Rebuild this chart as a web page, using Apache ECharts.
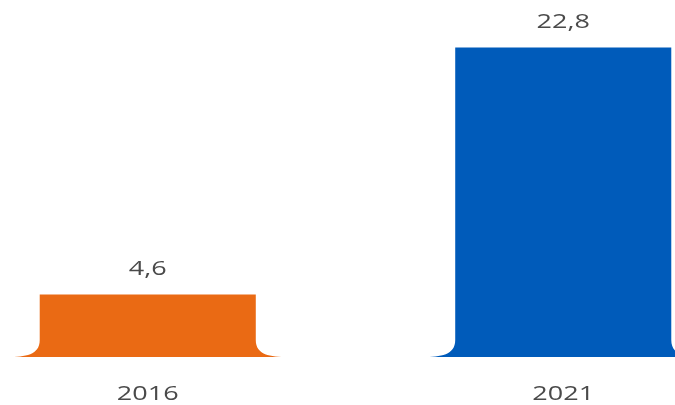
<!DOCTYPE html>
<html>
<head>
<meta charset="utf-8">
<script src="https://cdn.jsdelivr.net/npm/echarts@6/dist/echarts.min.js"></script>
<style>
  html, body { margin: 0; padding: 0; background: #ffffff; }
  #chart { width: 675px; height: 405px; }
</style>
</head>
<body>
<div id="chart"></div>
<script>
// Years and values shown on the chart
const years = ['2016', '2021'];
const values = [4.6, 22.8];
const barColors = ['#EA6A14', '#005BBA'];

const labelFont = '20px "Open Sans", sans-serif';
const labelColor = '#4a4a4a';
const labelStretch = 1.35;

const chart = echarts.init(document.getElementById('chart'), null, { renderer: 'canvas' });

// Bar with a soft concave flare at its foot, its value above and its year below
function renderFlaredBar(params, api) {
  const idx = api.value(0);
  const val = api.value(1);
  const base = api.coord([idx, 0]);
  const top = api.coord([idx, val]);
  const band = api.size([1, 0])[0];
  const w = band * 0.52;
  const l = base[0] - w / 2;
  const r = base[0] + w / 2;
  const y0 = base[1];
  const y1 = top[1];
  const fw = 32;   // flare reach along the baseline
  const fh = 17;   // flare height up the side
  const path =
    'M' + (l - fw) + ',' + y0 +
    ' C' + (l - fw * 0.45) + ',' + y0 + ' ' + l + ',' + (y0 - 2) + ' ' + l + ',' + (y0 - fh) +
    ' L' + l + ',' + y1 +
    ' L' + r + ',' + y1 +
    ' L' + r + ',' + (y0 - fh) +
    ' C' + r + ',' + (y0 - 2) + ' ' + (r + fw * 0.45) + ',' + y0 + ' ' + (r + fw) + ',' + y0 + ' Z';
  const textStyle = (t) => ({
    text: t,
    fill: labelColor,
    font: labelFont,
    align: 'center',
    verticalAlign: 'middle'
  });
  return {
    type: 'group',
    children: [
      {
        type: 'path',
        shape: { pathData: path },
        style: { fill: barColors[params.dataIndex] }
      },
      {
        type: 'text',
        x: base[0],
        y: y1 - 25,
        scaleX: labelStretch,
        style: textStyle(String(val).replace('.', ','))
      },
      {
        type: 'text',
        x: base[0],
        y: y0 + 37,
        scaleX: labelStretch,
        style: textStyle(years[idx])
      }
    ]
  };
}

chart.setOption({
  animation: false,
  grid: { left: -60, width: 831, top: 0, bottom: 48, outerBoundsMode: 'none' },
  xAxis: {
    type: 'category',
    data: years,
    axisLine: { show: false },
    axisTick: { show: false },
    axisLabel: { show: false }
  },
  yAxis: {
    type: 'value',
    min: 0,
    max: 26.3,
    show: false,
    splitLine: { show: false }
  },
  series: [{
    type: 'custom',
    renderItem: renderFlaredBar,
    clip: false,
    data: values.map((v, i) => [i, v])
  }]
});
</script>
</body>
</html>
